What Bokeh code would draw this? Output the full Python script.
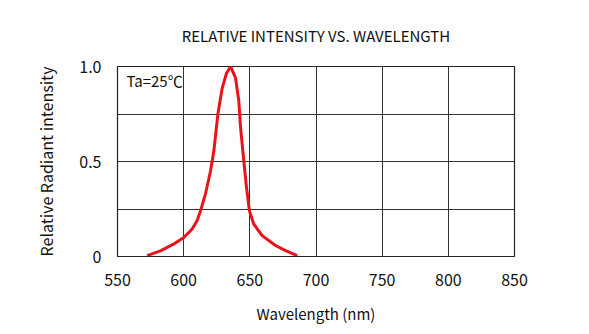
from bokeh.plotting import figure
from bokeh.models import Label, FixedTicker, Range1d
from bokeh.embed import file_html
from bokeh.resources import INLINE

wavelength = [572.4, 582.5, 592.6, 600.1, 606.4, 610.2, 612.7, 616.5, 620.3, 622.8, 625.8,
              629.1, 632.4, 635.4, 639.2, 641.7, 643.0, 645.5, 647.5, 649.7, 653.0, 659.3,
              669.4, 677.0, 685.8]
intensity = [0.005, 0.03, 0.066, 0.10, 0.145, 0.19, 0.24, 0.33, 0.45, 0.555, 0.747,
             0.886, 0.965, 1.0, 0.94, 0.817, 0.677, 0.50, 0.363, 0.24, 0.17, 0.11,
             0.058, 0.031, 0.005]
x_ticks = [550, 600, 650, 700, 750, 800, 850]
y_ticks = [0, 0.25, 0.5, 0.75, 1.0]
y_tick_labels = {0: "0", 0.25: "", 0.5: "0.5", 0.75: "", 1.0: "1.0"}

FONT = "Noto Sans CJK JP"

p = figure(width=589, height=334, output_backend="svg", toolbar_location=None,
           x_range=Range1d(550, 850), y_range=Range1d(0, 1.0),
           min_border_left=117, min_border_right=75, min_border_top=66, min_border_bottom=78)
p.background_fill_color = "white"
p.border_fill_color = "white"
p.outline_line_color = "#222222"
p.outline_line_width = 1.2

p.title.text = "RELATIVE INTENSITY VS. WAVELENGTH"
p.title.align = "center"
p.title.offset = -21
p.title.standoff = 42
p.title.text_font = FONT
p.title.text_font_size = "15px"
p.title.text_font_style = "normal"
p.title.text_color = "#111111"

p.xaxis.ticker = FixedTicker(ticks=x_ticks)
p.yaxis.ticker = FixedTicker(ticks=y_ticks)
p.yaxis.major_label_overrides = y_tick_labels
for ax in (p.xaxis, p.yaxis):
    ax.axis_line_color = None
    ax.major_tick_line_color = None
    ax.minor_tick_line_color = None
    ax.major_label_text_font = FONT
    ax.major_label_text_font_size = "16px"
    ax.major_label_text_color = "#111111"
    ax.axis_label_text_font = FONT
    ax.axis_label_text_font_size = "15px"
    ax.axis_label_text_font_style = "normal"
    ax.axis_label_text_color = "#111111"
p.yaxis.axis_label_text_font_size = "16px"
p.xaxis.major_label_standoff = 11
p.yaxis.major_label_standoff = 10
p.xaxis.axis_label = "Wavelength (nm)"
p.yaxis.axis_label = "Relative Radiant intensity"
p.xaxis.axis_label_standoff = 14
p.yaxis.axis_label_standoff = 18

p.xgrid.grid_line_color = "#333333"
p.ygrid.grid_line_color = "#333333"
p.xgrid.grid_line_width = 1
p.ygrid.grid_line_width = 1

p.line(wavelength, intensity, line_color="#e8141a", line_width=3, line_join="round")

ta = Label(x=9, y=176, x_units="screen", y_units="screen", text="Ta=25℃",
           text_align="left", text_baseline="middle", text_font=FONT,
           text_font_size="15px", text_color="#111111")
p.add_layout(ta)

open("out.html", "w").write(file_html(p, INLINE))
